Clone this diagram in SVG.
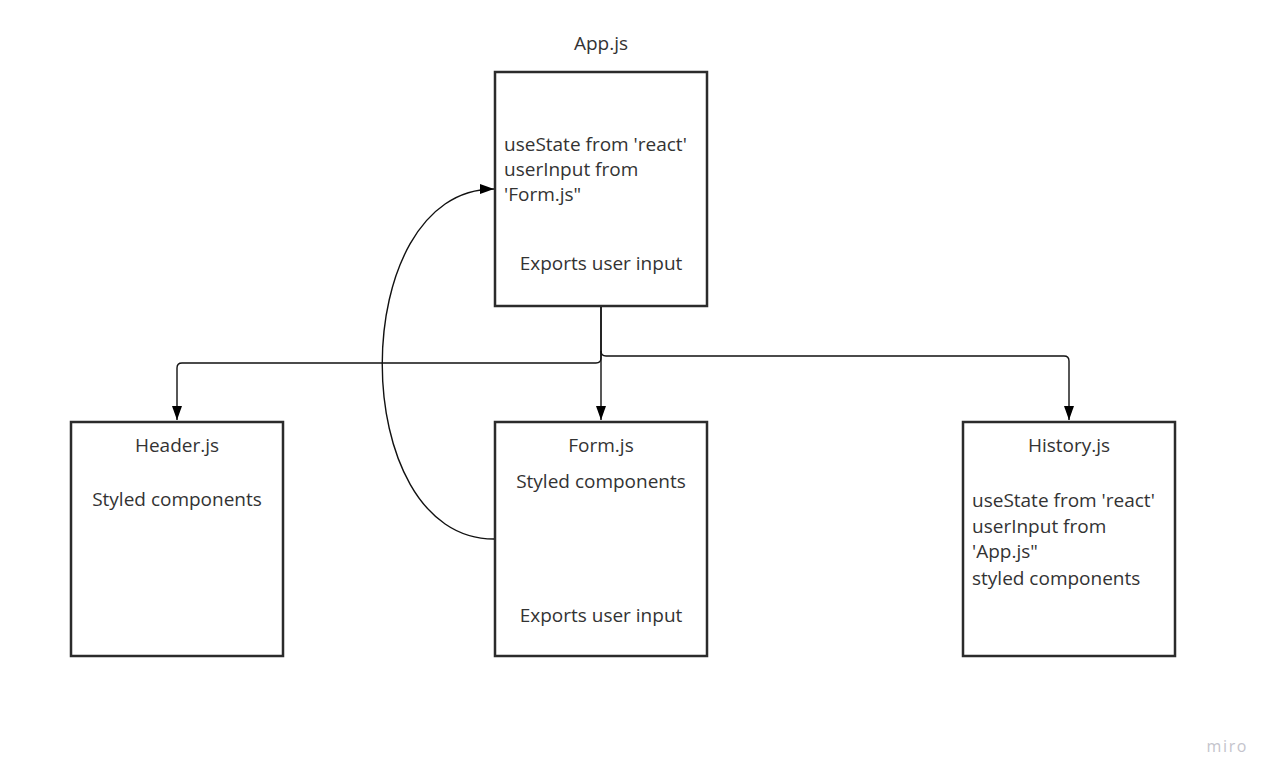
<svg xmlns="http://www.w3.org/2000/svg" width="1277" height="782" viewBox="0 0 1277 782">
<style>
.box{fill:#fff;stroke:#2b2b2b;stroke-width:2.5}
.t{font-family:"Open Sans","Liberation Sans",sans-serif;font-size:19px;fill:#333}
.c{text-anchor:middle}
.ln{fill:none;stroke:#111;stroke-width:1.4}
</style>
<defs>
<marker id="ah" viewBox="0 0 14 10" refX="14" refY="5" markerWidth="14" markerHeight="10" markerUnits="userSpaceOnUse" orient="auto">
<path d="M0,0 L14,5 L0,10 Z" fill="#000"/>
</marker>
</defs>
<rect width="1277" height="782" fill="#fff"/>
<g id="app">
<text class="t c" x="601" y="50">App.js</text>
<rect class="box" x="495" y="72" width="212" height="234"/>
<text class="t" x="504" y="151">useState from 'react'</text>
<text class="t" x="504" y="176">userInput from</text>
<text class="t" x="504" y="201">'Form.js"</text>
<text class="t c" x="601" y="270">Exports user input</text>
</g>
<g id="header">
<rect class="box" x="71" y="422" width="212" height="234"/>
<text class="t c" x="177" y="452">Header.js</text>
<text class="t c" x="177" y="506">Styled components</text>
</g>
<g id="form">
<rect class="box" x="495" y="422" width="212" height="234"/>
<text class="t c" x="601" y="452">Form.js</text>
<text class="t c" x="601" y="488">Styled components</text>
<text class="t c" x="601" y="622">Exports user input</text>
</g>
<g id="history">
<rect class="box" x="963" y="422" width="212" height="234"/>
<text class="t c" x="1069" y="452">History.js</text>
<text class="t" x="972" y="507">useState from 'react'</text>
<text class="t" x="972" y="533">userInput from</text>
<text class="t" x="972" y="558">'App.js"</text>
<text class="t" x="972" y="585">styled components</text>
</g>
<g id="connectors">
<path class="ln" d="M601,307 V358 Q601,363 596,363 H182 Q177,363 177,368 V420" marker-end="url(#ah)"/>
<path class="ln" d="M601,307 V420" marker-end="url(#ah)"/>
<path class="ln" d="M601,351 Q601,356 606,356 H1064 Q1069,356 1069,361 V420" marker-end="url(#ah)"/>
<path class="ln" d="M494,539 C345,539 345,189 494,189" marker-end="url(#ah)"/>
</g>
<text x="1248" y="752" text-anchor="end" font-family="Open Sans, Liberation Sans, sans-serif" font-size="16" letter-spacing="1.6" fill="#c4c4cc">miro</text>
</svg>
